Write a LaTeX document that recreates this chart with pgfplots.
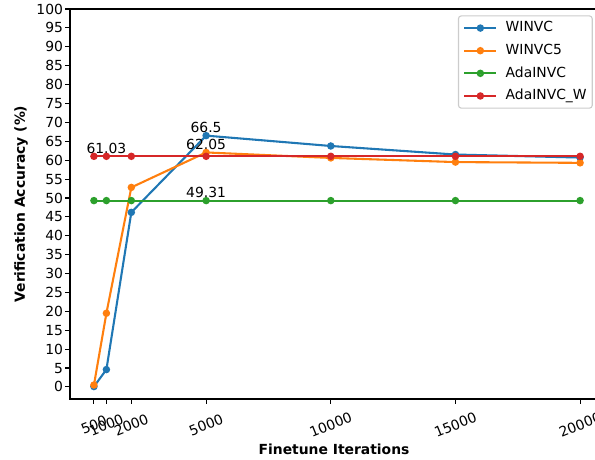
\documentclass[border=0pt]{standalone}
\usepackage{pgfplots}
\pgfplotsset{compat=1.18}
\usepackage{fontspec}
\setmainfont{DejaVu Sans}
\definecolor{c0}{HTML}{1F77B4}
\definecolor{c1}{HTML}{FF7F0E}
\definecolor{c2}{HTML}{2CA02C}
\definecolor{c3}{HTML}{D62728}
\begin{document}
\begin{tikzpicture}
\begin{axis}[
  at={(0,0)}, anchor=south west,
  scale only axis, width=380.2pt, height=280.8pt,
  xmin=-460, xmax=20720, ymin=-3.2, ymax=100,
  xtick={500,1000,2000,5000,10000,15000,20000},
  xticklabels={500,1000,2000,5000,10000,15000,20000},
  ytick={0,5,...,100},
  /pgf/number format/assume math mode=true,
  tick align=outside, tick pos=left, major tick length=3.5pt,
  every tick/.style={black, line width=0.8pt},
  axis line style={line width=0.8pt},
  tick label style={font=\fontsize{10}{12}\selectfont},
  yticklabel style={xshift=2pt},
  xticklabel style={anchor=center, yshift=-15pt, rotate=22},
  xlabel={Finetune Iterations},
  ylabel={Verification Accuracy (\%)},
  xlabel style={font=\fontsize{10}{12}\selectfont\bfseries, at={(axis description cs:0.5,-0.128)}, anchor=center},
  ylabel style={font=\fontsize{10}{12}\selectfont\bfseries, at={(axis description cs:-0.0928,0.5)}, anchor=center},
  legend style={at={(0.99,0.9838)}, anchor=north east, draw=black!20, line width=0.8pt, rounded corners=2pt, fill=white, fill opacity=0.8, text opacity=1, font=\fontsize{10}{12}\selectfont, inner sep=2pt, row sep=2.8pt, nodes={inner sep=2pt, text height=7.5pt, text depth=2pt}},
  legend cell align=left,
  legend image code/.code={\draw[mark repeat=2,mark phase=2] plot coordinates {(0pt,0pt) (11.5pt,0pt) (23pt,0pt)}; \path (-1.5pt,0pt) (27pt,0pt);},
  every axis plot/.append style={line width=1.5pt, mark=*, mark size=1.9pt},
]
\addplot[c0, mark options={fill=c0, draw=c0}] coordinates {(500,0.1) (1000,4.6) (2000,46.2) (5000,66.5) (10000,63.76) (15000,61.5) (20000,60.7)};
\addlegendentry{WINVC}
\addplot[c1, mark options={fill=c1, draw=c1}] coordinates {(500,0.5) (1000,19.5) (2000,52.8) (5000,62.05) (10000,60.6) (15000,59.5) (20000,59.3)};
\addlegendentry{WINVC5}
\addplot[c2, mark options={fill=c2, draw=c2}] coordinates {(500,49.31) (1000,49.31) (2000,49.31) (5000,49.31) (10000,49.31) (15000,49.31) (20000,49.31)};
\addlegendentry{AdaINVC}
\addplot[c3, mark options={fill=c3, draw=c3}] coordinates {(500,61.03) (1000,61.03) (2000,61.03) (5000,61.03) (10000,61.03) (15000,61.03) (20000,61.03)};
\addlegendentry{AdaINVC\_W}
\node[anchor=base, yshift=2pt, inner sep=0pt, font=\fontsize{10}{12}\selectfont] at (axis cs:5000,66.5) {66.5};
\node[anchor=base, yshift=2pt, inner sep=0pt, font=\fontsize{10}{12}\selectfont] at (axis cs:5000,62.05) {62.05};
\node[anchor=base, yshift=2pt, inner sep=0pt, font=\fontsize{10}{12}\selectfont] at (axis cs:1000,61.03) {61.03};
\node[anchor=base, yshift=2pt, inner sep=0pt, font=\fontsize{10}{12}\selectfont] at (axis cs:5000,49.31) {49.31};
\end{axis}
\pgfresetboundingbox
\useasboundingbox (-50.4pt,-43.2pt) rectangle (378pt,287.3pt);
\end{tikzpicture}
\end{document}
